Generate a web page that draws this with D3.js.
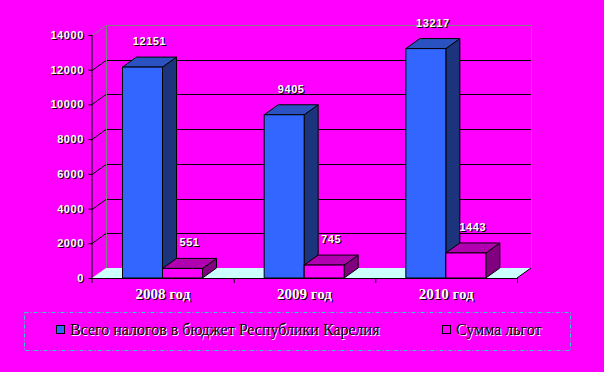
<!DOCTYPE html>
<html><head><meta charset="utf-8">
<script src="https://cdn.jsdelivr.net/npm/d3@7"></script>
<style>
html,body{margin:0;padding:0;background:#ff00ff;}
svg{display:block;}
</style></head>
<body>
<script>
const categories = ["2008 год", "2009 год", "2010 год"];
const seriesNames = ["Всего налогов в бюджет Республики Карелия", "Сумма льгот"];
const taxes = [12151, 9405, 13217];
const benefits = [551, 745, 1443];
const yTicks = [0, 2000, 4000, 6000, 8000, 10000, 12000, 14000];

const W = 604, H = 372;
const DX = 14, DY = -10;
const svg = d3.select("body").append("svg").attr("width", W).attr("height", H);
svg.append("rect").attr("width", W).attr("height", H).attr("fill", "#ff00ff");

const y = d3.scaleLinear().domain([0, 14000]).range([278, 35]);
const x = d3.scaleBand().domain(categories).range([92, 517]).paddingInner(0).paddingOuter(0);
const xs = d3.scaleBand().domain([0, 1]).range([30.5, 110.5]);

const series = [
  {vals: taxes, front: "#3366ff", top: "#2a52c0", side: "#1c347c"},
  {vals: benefits, front: "#ff00ff", top: "#b000b0", side: "#800080"}
];

// floor
const x0 = x.range()[0], x1 = x.range()[1], yb = y(0);
svg.append("path")
  .attr("d", `M${x0},${yb}L${x1},${yb}L${x1+DX},${yb+DY}L${x0+DX},${yb+DY}Z`)
  .attr("fill", "#ccffff").attr("stroke", "none");
svg.append("line").attr("x1", x1).attr("y1", yb).attr("x2", x1+DX).attr("y2", yb+DY)
  .attr("stroke", "#000").attr("stroke-width", 1);

// back wall gridlines
yTicks.forEach(t => {
  if (t === 0 || t === 14000) return;
  const yy = Math.round(y(t)) + 0.5;
  svg.append("line").attr("x1", x0+DX).attr("x2", x1+DX).attr("y1", yy+DY).attr("y2", yy+DY)
    .attr("stroke", "#000").attr("stroke-width", 1);
  svg.append("line").attr("x1", x0).attr("x2", x0+DX).attr("y1", yy).attr("y2", yy+DY)
    .attr("stroke", "#000").attr("stroke-width", 1);
});
// wall borders grey
const yt = Math.round(y(14000)) + 0.5;
svg.append("path")
  .attr("d", `M${x0+DX+0.5},${yb+DY}L${x0+DX+0.5},${yt+DY}L${x1+DX+0.5},${yt+DY}L${x1+DX+0.5},${yb+DY}`)
  .attr("fill", "none").attr("stroke", "#808080").attr("stroke-width", 1);
svg.append("line").attr("x1", x0).attr("x2", x0+DX).attr("y1", yt).attr("y2", yt+DY)
  .attr("stroke", "#808080").attr("stroke-width", 1);

// bars
categories.forEach((c, i) => {
  series.forEach((s, j) => {
    const bx = x(c) + xs(j), bw = xs.bandwidth();
    const by = y(s.vals[i]);
    const g = svg.append("g").attr("stroke", "#000").attr("stroke-width", 1).attr("stroke-linejoin", "miter");
    g.append("path").attr("d", `M${bx+bw},${by}L${bx+bw+DX},${by+DY}L${bx+bw+DX},${yb+DY}L${bx+bw},${yb}Z`).attr("fill", s.side);
    g.append("path").attr("d", `M${bx},${by}L${bx+DX},${by+DY}L${bx+bw+DX},${by+DY}L${bx+bw},${by}Z`).attr("fill", s.top);
    g.append("rect").attr("x", bx).attr("y", by).attr("width", bw).attr("height", yb - by).attr("fill", s.front);
  });
});

// front axis line (x)
svg.append("line").attr("x1", x0).attr("x2", x1).attr("y1", yb+0.5).attr("y2", yb+0.5).attr("stroke", "#000");
categories.concat(["_end"]).forEach((c, i) => {
  const xx = (c === "_end" ? x1 : x(c)) + 0.5;
  if (i === 0) return;
  svg.append("line").attr("x1", xx).attr("x2", xx).attr("y1", yb).attr("y2", yb+5).attr("stroke", "#000");
});

// y axis
const yAxis = d3.axisLeft(y).tickValues(yTicks).tickSize(4).tickFormat(d3.format("d"));
const ga = svg.append("g").attr("transform", `translate(${x0+0.5},0)`).call(yAxis);
ga.select(".domain").attr("d", `M-0.5,${y(14000)}V${yb+5}`).attr("stroke", "#000");
ga.selectAll(".tick line").attr("stroke", "#000");
ga.selectAll(".tick text").remove();

function shadowText(g, xx, yy, txt, opts) {
  const t1 = g.append("text").attr("x", xx + 1).attr("y", yy + 1).text(txt).attr("fill", opts.shadow);
  const t2 = g.append("text").attr("x", xx).attr("y", yy).text(txt).attr("fill", opts.fill);
  [t1, t2].forEach(t => t.attr("font-family", opts.family).attr("font-size", opts.size)
    .attr("font-weight", opts.weight).attr("text-anchor", opts.anchor)
    .attr("letter-spacing", opts.ls || 0));
}

const tickOpts = {family: "Liberation Sans, Arial, sans-serif", size: "11px", weight: "bold", anchor: "end", fill: "#fff", shadow: "#000", ls: "0.6px"};
yTicks.forEach(t => shadowText(svg, 84, y(t) + 4, d3.format("d")(t), tickOpts));

// value labels
const valOpts = {family: "Liberation Sans, Arial, sans-serif", size: "11px", weight: "bold", anchor: "middle", fill: "#fff", shadow: "#000", ls: "0.6px"};
categories.forEach((c, i) => {
  series.forEach((s, j) => {
    const cx = x(c) + xs(j) + xs.bandwidth() / 2 + DX / 2;
    shadowText(svg, cx, y(s.vals[i]) - 22, String(s.vals[i]), valOpts);
  });
});

// category labels
const catOpts = {family: "Liberation Serif, Times New Roman, serif", size: "15px", weight: "bold", anchor: "middle", fill: "#fff", shadow: "#000"};
categories.forEach(c => shadowText(svg, x(c) + x.bandwidth() / 2, 299, c, catOpts));

// legend
svg.append("rect").attr("x", 24.5).attr("y", 312.5).attr("width", 546).attr("height", 38)
  .attr("fill", "none").attr("stroke", "#33cccc").attr("stroke-width", 1).attr("stroke-dasharray", "4,2,1,2");
const legX = [56, 442];
const legOpts = {family: "Liberation Serif, Times New Roman, serif", size: "16px", weight: "normal", anchor: "start", fill: "#000", shadow: "#fff"};
seriesNames.forEach((n, j) => {
  svg.append("rect").attr("x", legX[j] + 0.5).attr("y", 325.5).attr("width", 8).attr("height", 8)
    .attr("fill", series[j].front).attr("stroke", "#000");
  shadowText(svg, legX[j] + 14, 335, n, legOpts);
});
</script>
</body></html>
